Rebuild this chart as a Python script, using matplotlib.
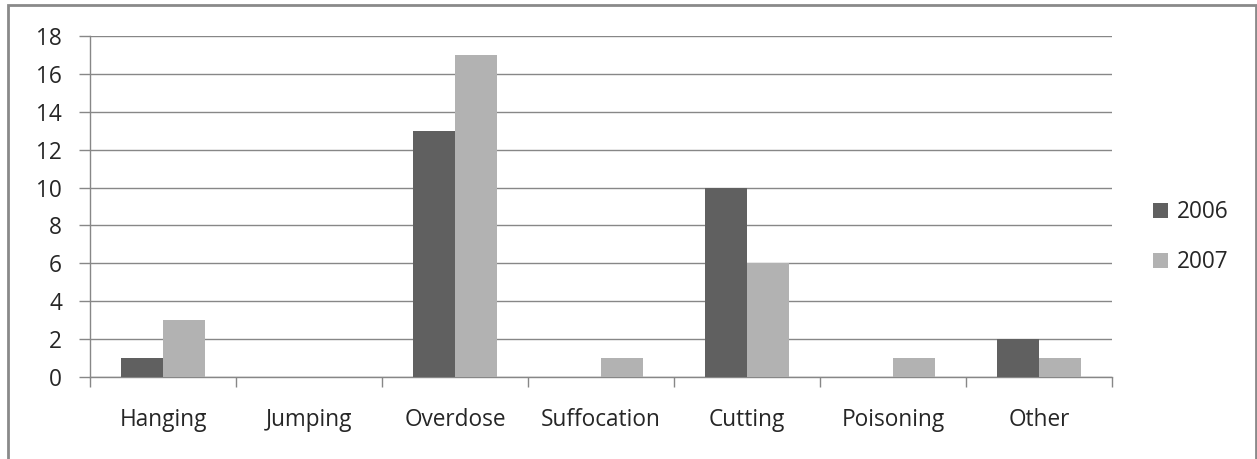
import numpy as np
import matplotlib.pyplot as plt
from matplotlib.patches import Rectangle

methods = ["Hanging", "Jumping", "Overdose", "Suffocation", "Cutting", "Poisoning", "Other"]
counts_2006 = [1, 0, 13, 0, 10, 0, 2]
counts_2007 = [3, 0, 17, 1, 6, 1, 1]
years = ["2006", "2007"]

plt.rcParams["font.family"] = ["Open Sans", "DejaVu Sans"]
grid_color = "#878787"
text_color = "#262626"
fs = 16.3

fig = plt.figure(figsize=(12.57, 4.59), dpi=100)
ax = fig.add_axes([90 / 1257, 82 / 459, 1022 / 1257, 341 / 459])

x = np.arange(len(methods))
w = 0.29
ax.bar(x - w / 2, counts_2006, w, color="#606060", label=years[0], zorder=3)
ax.bar(x + w / 2, counts_2007, w, color="#b2b2b2", label=years[1], zorder=3)

ax.set_xlim(-0.5, len(methods) - 0.5)
ax.set_ylim(0, 18)
ax.set_yticks(range(0, 19, 2))
ax.yaxis.grid(True, color=grid_color, linewidth=1)
ax.set_axisbelow(True)

# category labels centred, tick marks on the boundaries
ax.set_xticks(x)
ax.set_xticklabels(methods)
ax.tick_params(axis="x", length=0, pad=22, labelsize=fs, labelcolor=text_color)
ax.set_xticks(np.arange(-0.5, len(methods)), minor=True)
ax.tick_params(axis="x", which="minor", length=7, color=grid_color, width=1)
ax.tick_params(axis="y", length=8, color=grid_color, width=1, pad=12,
               labelsize=fs, labelcolor=text_color)

for side in ["top", "right"]:
    ax.spines[side].set_visible(False)
for side in ["left", "bottom"]:
    ax.spines[side].set_color(grid_color)
    ax.spines[side].set_linewidth(1)

ax.legend(loc="center left", bbox_to_anchor=(1.02, 0.41), frameon=False,
          fontsize=fs, handlelength=0.65, handleheight=0.65, handletextpad=0.4,
          labelspacing=1.15, labelcolor=text_color)

# outer chart frame
fig.patches.append(Rectangle((8 / 1257, -0.01), 1248 / 1257, 1 - 5 / 459 + 0.01,
                             transform=fig.transFigure, fill=False,
                             edgecolor="#8a8a8a", linewidth=2, zorder=0))

fig.savefig("out.png", dpi=100)
